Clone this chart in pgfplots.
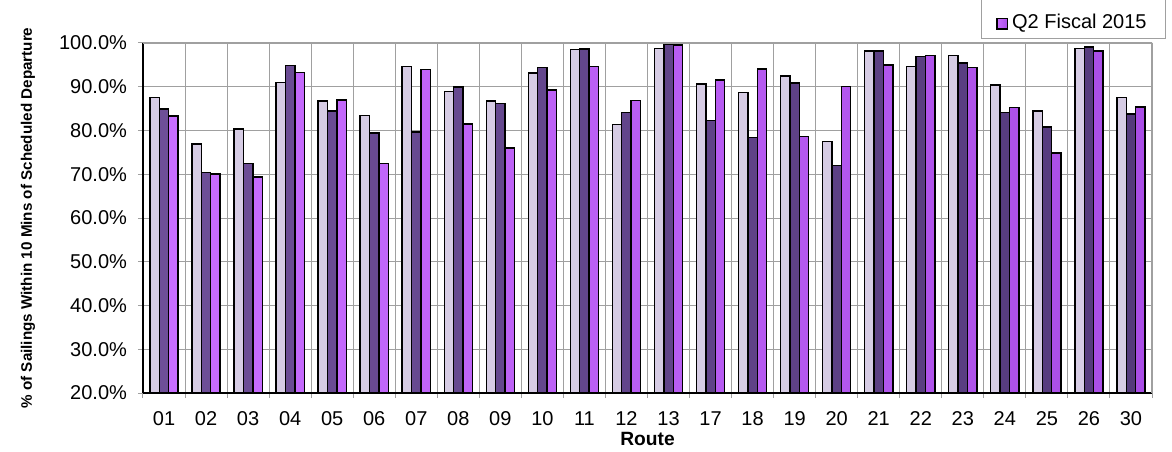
\documentclass[border=0pt]{standalone}
\usepackage{pgfplots}
\pgfplotsset{compat=1.18}
\usepackage{pgfplotstable}
\usepackage{fontspec}
\setmainfont{Liberation Sans}

\definecolor{lavL}{HTML}{D6CCE4}
\definecolor{lavM}{HTML}{F6F3FA}
\definecolor{drkL}{HTML}{553A7C}
\definecolor{drkM}{HTML}{6E4F98}
\definecolor{purL}{HTML}{A94DE6}
\definecolor{purM}{HTML}{C86EFF}
\definecolor{gridgray}{HTML}{A0A0A0}

% route index, three quarters (the legend only shows the last one)
\pgfplotstableread{
x  s1    s2    s3
0  87.5  84.9  83.3
1  76.9  70.4  70.1
2  80.3  72.4  69.4
3  91.0  94.9  93.2
4  86.7  84.5  87.0
5  83.4  79.4  72.5
6  94.6  79.7  94.0
7  88.9  89.9  81.5
8  86.7  86.2  76.0
9  93.1  94.4  89.3
10 98.5  98.6  94.6
11 81.4  84.1  86.9
12 98.7  99.8  99.5
13 90.6  82.3  91.5
14 88.7  78.4  94.1
15 92.5  90.9  78.6
16 77.5  72.0  90.0
17 98.2  98.2  95.0
18 94.6  96.9  97.1
19 97.2  95.4  94.4
20 90.4  84.1  85.2
21 84.5  80.8  74.9
22 98.8  99.1  98.2
23 87.5  83.8  85.4
}\routes

\begin{document}
\begin{tikzpicture}
\useasboundingbox (-71.5pt,-29pt) rectangle (514.5pt,196.5pt);
\clip (-71.5pt,-29pt) rectangle (514.5pt,196.5pt);
\begin{axis}[
    at={(0,0)}, anchor=south west,
    scale only axis,
    width=504.5pt, height=175pt,
    ybar,
    bar width=4.7pt,
    xmin=-0.5, xmax=23.5,
    ymin=20, ymax=100,
    axis lines=left,
    axis line style={-, black, line width=0.8pt},
    tick align=outside,
    xtick={0,...,23},
    xticklabels={01,02,03,04,05,06,07,08,09,10,11,12,13,17,18,19,20,21,22,23,24,25,26,30},
    major x tick style={draw=none},
    minor xtick={-0.5,0.5,...,23.5},
    xminorgrids=true,
    minor tick length=2.5pt,
    minor x tick style={gridgray, line width=0.5pt},
    minor grid style={gridgray, line width=0.5pt},
    ytick={20,30,...,100},
    yticklabels={20.0\%,30.0\%,40.0\%,50.0\%,60.0\%,70.0\%,80.0\%,90.0\%,100.0\%},
    ymajorgrids=true,
    major grid style={gridgray, line width=0.5pt},
    major tick length=2.5pt,
    y tick style={gridgray, line width=0.5pt},
    tick label style={font=\fontsize{10}{12}\selectfont},
    xticklabel style={yshift=-3pt, text height=7.3pt, text depth=0pt},
    yticklabel style={xshift=-2pt},
    xlabel={Route},
    ylabel={\% of Sailings Within 10 Mins of Scheduled Departure},
    every axis x label/.style={at={(axis description cs:0.5,-0.131)}, anchor=center,
        font=\fontsize{9.6}{11}\selectfont\bfseries},
    every axis y label/.style={at={(axis description cs:-0.114,0.5)}, rotate=90, anchor=center,
        font=\fontsize{7.6}{9}\selectfont\bfseries},
    legend style={at={(axis description cs:1.0139,1.0134)}, anchor=south east,
        draw=gridgray, fill=white, inner xsep=7.5pt, inner ysep=1pt,
        font=\fontsize{10}{12}\selectfont, cells={anchor=base west}},
    legend image code/.code={\draw[#1] (0pt,0pt) rectangle (5.3pt,5.3pt);},
]
\addplot[forget plot, bar shift=-4.7pt, draw=black, line width=0.7pt,
    left color=lavL, middle color=lavM, right color=lavL]
    table[x=x, y=s1] {\routes};
\addplot[forget plot, bar shift=0pt, draw=black, line width=0.7pt,
    left color=drkM, middle color=drkM, right color=drkL]
    table[x=x, y=s2] {\routes};
\addplot[bar shift=4.7pt, draw=black, line width=0.7pt,
    left color=purM, middle color=purM, right color=purL]
    table[x=x, y=s3] {\routes};
\addlegendentry{\rule{0pt}{22pt}Q2 Fiscal 2015}
\draw[gridgray, line width=0.8pt] (rel axis cs:0,1) -- (rel axis cs:1,1) -- (rel axis cs:1,0);
\end{axis}
\end{tikzpicture}
\end{document}
